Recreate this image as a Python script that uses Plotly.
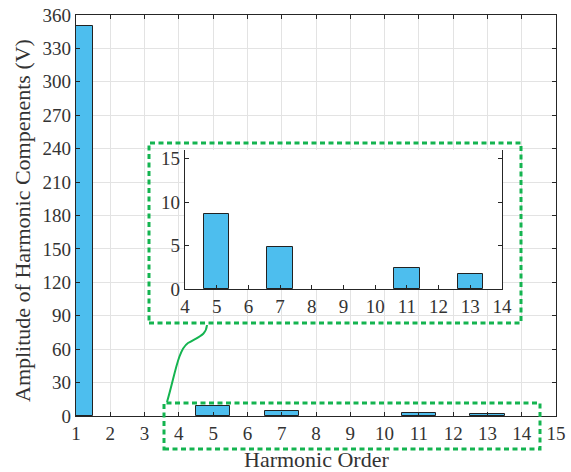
import plotly.graph_objects as go

# data
harmonics = [1, 5, 7, 11, 13]
amplitudes = [350, 8.7, 4.9, 2.5, 1.75]
inset_harmonics = [5, 7, 11, 13]
inset_amplitudes = [8.7, 4.9, 2.5, 1.75]
x_ticks = list(range(1, 16))
y_ticks = list(range(0, 361, 30))
inset_x_ticks = list(range(4, 15))
inset_y_ticks = [0, 5, 10, 15]

W, H = 571, 472
L, R, T, B = 76, 15, 15, 56
PW, PH = W - L - R, H - T - B

def px(x):
    return (x - L) / PW

def py(y):
    return (H - B - y) / PH

bar_color = "#4DBEEE"
edge = "#222222"
axis_col = "#262626"
font_col = "#333333"
green = "rgb(20,180,80)"
FONT = "Liberation Serif, Times New Roman, serif"

fig = go.Figure()
fig.add_trace(go.Bar(x=harmonics, y=amplitudes, width=1.0,
                     marker=dict(color=bar_color, line=dict(color=edge, width=1)),
                     xaxis="x", yaxis="y", showlegend=False))
fig.add_trace(go.Bar(x=inset_harmonics, y=inset_amplitudes, width=0.8,
                     marker=dict(color=bar_color, line=dict(color=edge, width=1)),
                     xaxis="x2", yaxis="y2", showlegend=False))

common = dict(showline=True, linecolor=axis_col, linewidth=1.2, ticks="inside",
              ticklen=4, tickcolor=axis_col, zeroline=False, automargin=False,
              tickfont=dict(size=19))

fig.update_layout(
    width=W, height=H,
    margin=dict(l=L, r=R, t=T, b=B, autoexpand=False),
    paper_bgcolor="white", plot_bgcolor="white",
    font=dict(family=FONT, color=font_col, size=19),
    xaxis=dict(range=[1, 15], tickvals=x_ticks, showgrid=True, gridcolor="#e3e3e3",
               gridwidth=1, mirror="allticks", domain=[0, 1], **common),
    yaxis=dict(range=[0, 360], tickvals=y_ticks, showgrid=True, gridcolor="#e3e3e3",
               gridwidth=1, mirror="allticks", domain=[0, 1], **common),
    xaxis2=dict(range=[4, 14], tickvals=inset_x_ticks, showgrid=False,
                domain=[px(185), px(502)], anchor="y2", **common),
    yaxis2=dict(range=[0, 16], tickvals=inset_y_ticks, showgrid=False, mirror="ticks",
                domain=[py(289.3), py(150)], anchor="x2", **common),
    bargap=0,
)

fig.add_annotation(text="Harmonic Order", xref="paper", yref="paper",
                   x=px(316), y=py(459), showarrow=False,
                   font=dict(size=22, color=font_col), xanchor="center", yanchor="middle")
fig.add_annotation(text="Amplitude of Harmonic Compenents (V)", xref="paper", yref="paper",
                   x=px(22), y=py(221), showarrow=False, textangle=-90,
                   font=dict(size=22, color=font_col), xanchor="center", yanchor="middle")

dash = "5px,3.5px"
shapes = [
    dict(type="rect", xref="paper", yref="paper", x0=px(149), x1=px(521),
         y0=py(323), y1=py(143), line=dict(color=green, width=3, dash=dash)),
    dict(type="rect", xref="paper", yref="paper", x0=px(164), x1=px(540),
         y0=py(449), y1=py(403), line=dict(color=green, width=3, dash=dash)),
]
pts = [(167, 402), (175, 375), (178, 350), (188, 343), (200, 336), (206, 335), (207, 325)]
p = [(px(a), py(b)) for a, b in pts]
path = "M {0},{1} C {2},{3} {4},{5} {6},{7} C {8},{9} {10},{11} {12},{13}".format(
    *[v for pt in p for v in pt])
shapes.append(dict(type="path", xref="paper", yref="paper", path=path,
                   line=dict(color=green, width=2)))
fig.update_layout(shapes=shapes)

fig.write_html("out.html", config={"displayModeBar": False},
               post_script="document.body.style.margin='0px';")
